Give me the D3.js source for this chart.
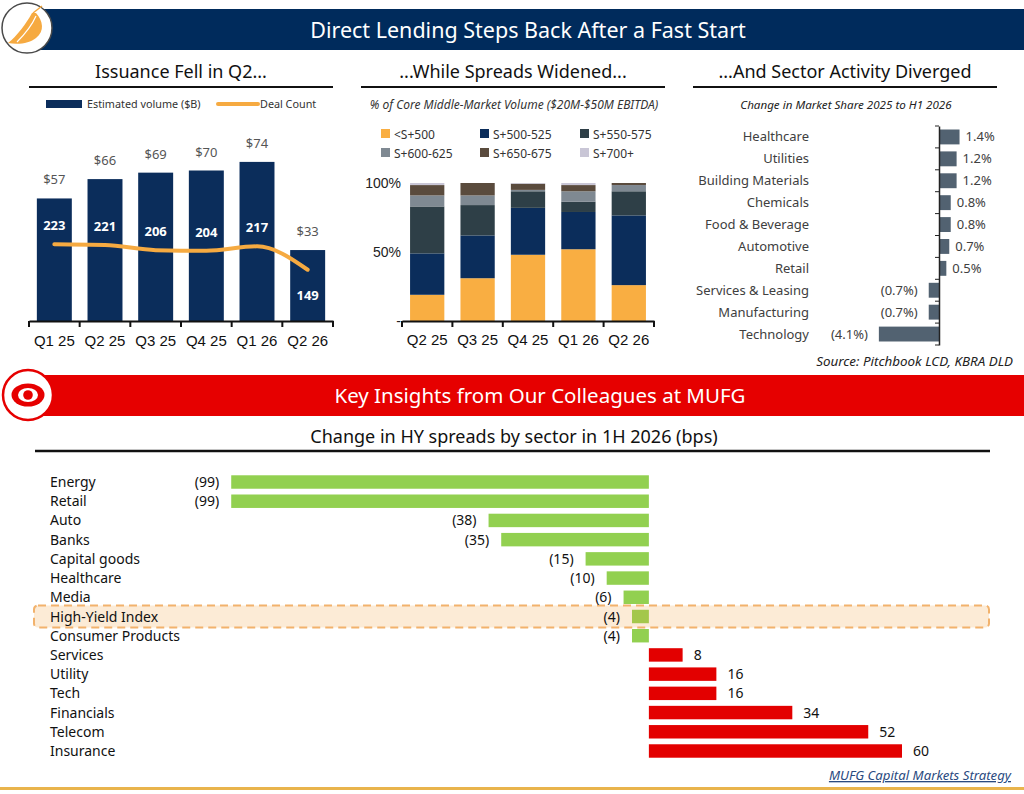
<!DOCTYPE html>
<meta charset="utf-8">
<title>Direct Lending Steps Back After a Fast Start</title>
<style>
    body { margin: 0; background: #fff; }
    svg { display: block; font-family: "Noto Sans", "Open Sans", sans-serif; }
</style>
<script src="https://d3js.org/d3.v7.min.js"></script>

<svg id="viz" width="1024" height="794"></svg>

<script>
    // ---- data ----
    // issuance
    const quarters1 = ["Q1 25", "Q2 25", "Q3 25", "Q4 25", "Q1 26", "Q2 26"];
    const volume = [57, 66, 69, 70, 74, 33];
    const dealCount = [223, 221, 206, 204, 217, 149];

    // spreads (% of core middle-market volume)
    const quarters2 = ["Q2 25", "Q3 25", "Q4 25", "Q1 26", "Q2 26"];
    const buckets = ["<S+500", "S+500-525", "S+550-575", "S+600-625", "S+650-675", "S+700+"];
    const below500 = [19, 31, 48, 52, 26];
    const s500to525 = [30, 31, 34, 27, 50.5];
    const s550to575 = [34, 22, 12, 7.5, 17.5];
    const s600to625 = [8, 7, 1, 7.5, 4.5];
    const s650to675 = [7.5, 9, 4.5, 4.5, 1.5];
    const s700plus = [1.5, 0, 0.5, 1.5, 0];

    // sector share change
    const sectors = ["Healthcare", "Utilities", "Building Materials", "Chemicals", "Food & Beverage",
        "Automotive", "Retail", "Services & Leasing", "Manufacturing", "Technology"];
    const shareChange = [1.4, 1.2, 1.2, 0.8, 0.8, 0.7, 0.5, -0.7, -0.7, -4.1];

    // HY spreads change (bps)
    const hySectors = ["Energy", "Retail", "Auto", "Banks", "Capital goods", "Healthcare", "Media",
        "High-Yield Index", "Consumer Products", "Services", "Utility", "Tech", "Financials", "Telecom", "Insurance"];
    const hyChange = [-99, -99, -38, -35, -15, -10, -6, -4, -4, 8, 16, 16, 34, 52, 60];

    const navy = "#0b2d5b";
    const orange = "#f6aa41";

    const svg = d3.select("#viz");

    // ---- banners ----
    svg.append("rect").attr("x", 40).attr("y", 9).attr("width", 984).attr("height", 41).attr("fill", "#002b5c");
    svg.append("text").attr("x", 528).attr("y", 37.5).attr("text-anchor", "middle")
        .attr("fill", "#fff").style("font-size", "21.5px").text("Direct Lending Steps Back After a Fast Start");

    // logo 1
    const logo1 = svg.append("g").attr("transform", "translate(27,28)");
    logo1.append("circle").attr("r", 25).attr("fill", "#fff").attr("stroke", "#4a4a4a").attr("stroke-width", 1.5);
    logo1.append("path").attr("fill", orange)
        .attr("d", "M-19,15 C-10,8 -1,-4 5,-15 L9,-15 C16,-7 18,3 9,10 C3,15 -8,17 -19,15 Z");
    logo1.append("path").attr("fill", "none").attr("stroke", "#fff").attr("stroke-width", 1.2)
        .attr("d", "M-10,14 C-2,6 5,-3 9,-12");
    logo1.append("path").attr("fill", "none").attr("stroke", orange).attr("stroke-width", 1.5)
        .attr("d", "M6,-15 L15,-22");

    svg.append("rect").attr("x", 40).attr("y", 375).attr("width", 984).attr("height", 41).attr("fill", "#e60000");
    svg.append("text").attr("x", 540).attr("y", 403).attr("text-anchor", "middle")
        .attr("fill", "#fff").style("font-size", "20.5px").text("Key Insights from Our Colleagues at MUFG");

    // logo 2
    const logo2 = svg.append("g").attr("transform", "translate(28,395)");
    logo2.append("circle").attr("r", 25).attr("fill", "#fff").attr("stroke", "#e60000").attr("stroke-width", 2.5);
    logo2.append("ellipse").attr("rx", 16.5).attr("ry", 11.5).attr("fill", "#e60000");
    logo2.append("ellipse").attr("rx", 10).attr("ry", 7).attr("fill", "#fff");
    logo2.append("circle").attr("r", 4.8).attr("fill", "#e60000");

    // bottom rule
    svg.append("rect").attr("x", 0).attr("y", 787).attr("width", 1024).attr("height", 3).attr("fill", "#e9b44c");

    // section titles with underline
    function sectionTitle(text, cx, y, x0, x1, lineY, size, lw) {
        svg.append("text").attr("x", cx).attr("y", y).attr("text-anchor", "middle")
            .attr("fill", "#111").style("font-size", size + "px").text(text);
        svg.append("line").attr("x1", x0).attr("x2", x1).attr("y1", lineY).attr("y2", lineY)
            .attr("stroke", "#111").attr("stroke-width", lw);
    }
    sectionTitle("Issuance Fell in Q2...", 181, 78, 29, 333, 87, 18, 2);
    sectionTitle("...While Spreads Widened...", 513, 78, 361, 665, 87, 18, 2);
    sectionTitle("...And Sector Activity Diverged", 845, 78, 693, 997, 87, 18, 2);
    sectionTitle("Change in HY spreads by sector in 1H 2026 (bps)", 514, 443, 35, 990, 451, 18, 2.5);

    // ---- chart 1: issuance ----
    const x1 = d3.scaleBand().domain(quarters1).range([29, 333]).paddingInner(0.31).paddingOuter(0.155);
    const y1 = d3.scaleLinear().domain([0, 80]).range([321, 149]);
    const y1b = d3.scaleLinear().domain([0, 500]).range([321, 149]);

    const c1 = svg.append("g");
    c1.selectAll("rect.bar").data(quarters1).join("rect")
        .attr("class", "bar")
        .attr("x", d => x1(d))
        .attr("y", (d, i) => y1(volume[i]))
        .attr("width", x1.bandwidth())
        .attr("height", (d, i) => y1(0) - y1(volume[i]))
        .attr("fill", navy);

    c1.selectAll("text.vol").data(quarters1).join("text")
        .attr("class", "vol")
        .attr("x", d => x1(d) + x1.bandwidth() / 2)
        .attr("y", (d, i) => y1(volume[i]) - 14)
        .attr("text-anchor", "middle").attr("fill", "#555")
        .style("font-size", "13px")
        .text((d, i) => "$" + volume[i]);

    const line1 = d3.line()
        .x((d, i) => x1(quarters1[i]) + x1.bandwidth() / 2)
        .y(d => y1b(d))
        .curve(d3.curveMonotoneX);
    c1.append("path").datum(dealCount).attr("d", line1)
        .attr("fill", "none").attr("stroke", orange).attr("stroke-width", 4).attr("stroke-linecap", "round");

    c1.selectAll("text.deal").data(dealCount).join("text")
        .attr("class", "deal")
        .attr("x", (d, i) => x1(quarters1[i]) + x1.bandwidth() / 2)
        .attr("y", (d, i) => i === dealCount.length - 1 ? y1b(d) + 30 : y1b(d) - 14)
        .attr("text-anchor", "middle").attr("fill", "#fff")
        .style("font-size", "13px").style("font-weight", "bold")
        .text(d => d);

    const ax1 = c1.append("g").attr("transform", "translate(0,321)")
        .call(d3.axisBottom(x1).tickSize(0).tickPadding(14));
    ax1.select(".domain").attr("stroke", "#111").attr("stroke-width", 2);
    ax1.selectAll("text").style("font-size", "15px").attr("fill", "#111").attr("font-family", null);
    // boundary ticks
    const bounds1 = quarters1.map(d => x1(d) - x1.step() * x1.paddingInner() / 2).concat([333]);
    c1.selectAll("line.bt").data(bounds1).join("line").attr("class", "bt")
        .attr("x1", d => d).attr("x2", d => d).attr("y1", 321).attr("y2", 327)
        .attr("stroke", "#111").attr("stroke-width", 2);

    // legend
    c1.append("rect").attr("x", 46).attr("y", 100).attr("width", 36).attr("height", 8).attr("fill", navy);
    c1.append("text").attr("x", 87).attr("y", 108).attr("fill", "#333").style("font-size", "10.8px").text("Estimated volume ($B)");
    c1.append("line").attr("x1", 218).attr("x2", 258).attr("y1", 104).attr("y2", 104)
        .attr("stroke", orange).attr("stroke-width", 4).attr("stroke-linecap", "round");
    c1.append("text").attr("x", 260).attr("y", 108).attr("fill", "#333").style("font-size", "10.8px").text("Deal Count");

    // ---- chart 2: spreads ----
    const c2 = svg.append("g");
    c2.append("text").attr("x", 514).attr("y", 109).attr("text-anchor", "middle")
        .attr("fill", "#333").style("font-size", "12px").style("font-style", "italic")
        .text("% of Core Middle-Market Volume ($20M-$50M EBITDA)");

    const spreadColor = d3.scaleOrdinal().domain(buckets)
        .range(["#f9ae42", "#0b2d5b", "#2e3f47", "#7f8992", "#5a4b3d", "#c9c6d6"]);
    const rows2 = quarters2.map((q, i) => {
        const r = { q: q };
        [below500, s500to525, s550to575, s600to625, s650to675, s700plus]
            .forEach((arr, k) => r[buckets[k]] = arr[i]);
        return r;
    });
    const stacked = d3.stack().keys(buckets)(rows2);

    const x2 = d3.scaleBand().domain(quarters2).range([402, 654]).paddingInner(0.32).paddingOuter(0.16);
    const y2 = d3.scaleLinear().domain([0, 100]).range([321, 183]);

    c2.selectAll("g.layer").data(stacked).join("g").attr("class", "layer")
        .attr("fill", d => spreadColor(d.key))
        .selectAll("rect").data(d => d).join("rect")
        .attr("x", d => x2(d.data.q))
        .attr("y", d => y2(d[1]))
        .attr("width", x2.bandwidth())
        .attr("height", d => y2(d[0]) - y2(d[1]));

    const ax2 = c2.append("g").attr("transform", "translate(0,321)")
        .call(d3.axisBottom(x2).tickSize(0).tickPadding(13));
    ax2.select(".domain").attr("stroke", "#111").attr("stroke-width", 2);
    ax2.selectAll("text").style("font-size", "15px").attr("fill", "#111").attr("font-family", null);
    const bounds2 = quarters2.map(d => x2(d) - x2.step() * x2.paddingInner() / 2).concat([654]);
    c2.selectAll("line.bt").data(bounds2).join("line").attr("class", "bt")
        .attr("x1", d => d).attr("x2", d => d).attr("y1", 321).attr("y2", 327)
        .attr("stroke", "#111").attr("stroke-width", 2);

    const ay2 = c2.append("g").attr("transform", "translate(401,0)")
        .call(d3.axisLeft(y2).tickValues([0, 50, 100]).tickSize(0).tickPadding(0)
            .tickFormat(d => d === 0 ? "-" : d + "%"));
    ay2.select(".domain").remove();
    ay2.selectAll("text").style("font-size", "14px").attr("fill", "#222").attr("font-family", null);

    // legend
    const leg2 = c2.selectAll("g.leg").data(buckets).join("g").attr("class", "leg")
        .attr("transform", (d, i) => `translate(${[381, 480, 580][i % 3]},${i < 3 ? 134 : 153})`);
    leg2.append("rect").attr("x", 0).attr("y", -5).attr("width", 9).attr("height", 9).attr("fill", d => spreadColor(d));
    leg2.append("text").attr("x", 13).attr("y", 4.5).attr("fill", "#333").style("font-size", "12px").text(d => d);

    // ---- chart 3: sector share ----
    const c3 = svg.append("g");
    c3.append("text").attr("x", 846).attr("y", 109).attr("text-anchor", "middle")
        .attr("fill", "#222").style("font-size", "11.6px").style("font-style", "italic")
        .text("Change in Market Share 2025 to H1 2026");

    const x3 = d3.scaleLinear().domain([-4.5, 1.5]).range([873, 961]);
    const y3 = d3.scaleBand().domain(sectors).range([126, 345]).paddingInner(0.32).paddingOuter(0.16);

    c3.selectAll("rect").data(shareChange).join("rect")
        .attr("x", d => x3(Math.min(0, d)))
        .attr("y", (d, i) => y3(sectors[i]))
        .attr("width", d => Math.abs(x3(d) - x3(0)))
        .attr("height", y3.bandwidth())
        .attr("fill", "#526271");

    c3.selectAll("text.cat").data(sectors).join("text").attr("class", "cat")
        .attr("x", 809).attr("y", d => y3(d) + y3.bandwidth() / 2 + 4.5)
        .attr("text-anchor", "end").attr("fill", "#404040").style("font-size", "13px")
        .text(d => d);

    c3.selectAll("text.val").data(shareChange).join("text").attr("class", "val")
        .attr("x", d => d >= 0 ? x3(d) + 6 : x3(d) - 11)
        .attr("y", (d, i) => y3(sectors[i]) + y3.bandwidth() / 2 + 4.5)
        .attr("text-anchor", d => d >= 0 ? "start" : "end")
        .attr("fill", "#404040").style("font-size", "13px")
        .text(d => d >= 0 ? d.toFixed(1) + "%" : "(" + Math.abs(d).toFixed(1) + "%)");

    const ay3 = c3.append("g").attr("transform", `translate(${x3(0)},0)`)
        .call(d3.axisLeft(y3).tickSize(0).tickFormat(""));
    ay3.select(".domain").attr("stroke", "#222").attr("stroke-width", 1.5);
    c3.selectAll("line.bt").data(sectors.map(d => y3(d) - y3.step() * y3.paddingInner() / 2).concat([345]))
        .join("line").attr("class", "bt")
        .attr("x1", x3(0) - 4).attr("x2", x3(0)).attr("y1", d => d).attr("y2", d => d)
        .attr("stroke", "#222").attr("stroke-width", 1);

    c3.append("text").attr("x", 1013).attr("y", 366).attr("text-anchor", "end")
        .attr("fill", "#222").style("font-size", "13.4px").style("font-style", "italic")
        .text("Source: Pitchbook LCD, KBRA DLD");

    // ---- chart 4: HY spreads by sector ----
    const c4 = svg.append("g");
    const x4 = d3.scaleLinear().domain([-100, 60]).range([227, 902]);
    const y4 = d3.scaleBand().domain(hySectors).range([472.4, 760.6]).paddingInner(0.3).paddingOuter(0.15);

    // highlight for the index row
    const hy = "High-Yield Index";
    c4.append("rect").attr("x", 34).attr("y", y4(hy) + y4.bandwidth() / 2 - 11)
        .attr("width", 955).attr("height", 22).attr("rx", 4)
        .attr("fill", "#fcebd6").attr("stroke", "#f2b26c").attr("stroke-width", 2)
        .attr("stroke-dasharray", "8,5");

    c4.selectAll("rect.bar").data(hyChange).join("rect").attr("class", "bar")
        .attr("x", d => x4(Math.min(0, d)))
        .attr("y", (d, i) => y4(hySectors[i]))
        .attr("width", d => Math.abs(x4(d) - x4(0)))
        .attr("height", y4.bandwidth())
        .attr("fill", (d, i) => hySectors[i] === hy ? "#a4c74b" : d < 0 ? "#92d050" : "#e30000");

    c4.selectAll("text.cat").data(hySectors).join("text").attr("class", "cat")
        .attr("x", 50).attr("y", d => y4(d) + y4.bandwidth() / 2 + 5)
        .attr("fill", "#111").style("font-size", "14px").text(d => d);

    c4.selectAll("text.val").data(hyChange).join("text").attr("class", "val")
        .attr("x", d => d >= 0 ? x4(d) + 11 : x4(d) - 12)
        .attr("y", (d, i) => y4(hySectors[i]) + y4.bandwidth() / 2 + 5)
        .attr("text-anchor", d => d >= 0 ? "start" : "end")
        .attr("fill", "#111").style("font-size", "14px")
        .text(d => d >= 0 ? d : "(" + Math.abs(d) + ")");

    c4.append("text").attr("x", 1011).attr("y", 780).attr("text-anchor", "end")
        .attr("fill", "#2a4a80").style("font-size", "13.2px").style("font-style", "italic")
        .style("text-decoration", "underline")
        .text("MUFG Capital Markets Strategy");
</script>
